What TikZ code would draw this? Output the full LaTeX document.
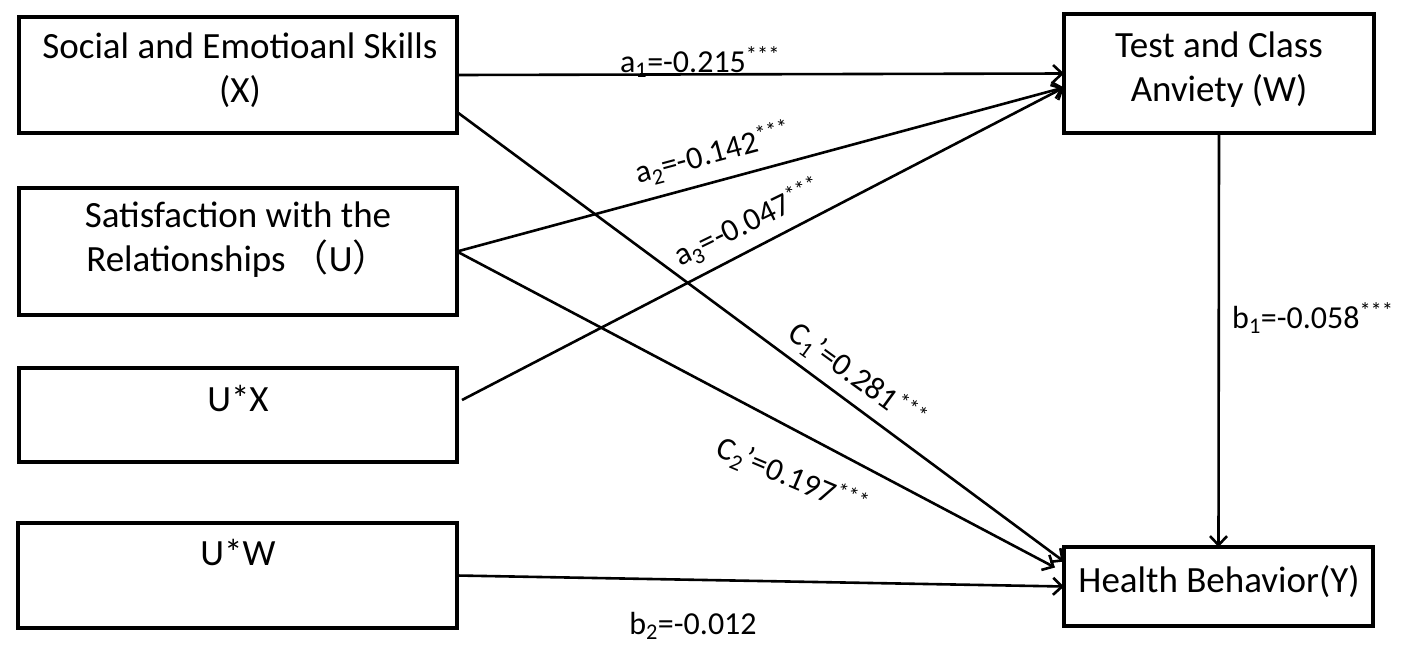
\documentclass[tikz,border=0pt]{standalone}
\usepackage{fontspec}
\setmainfont{Carlito}
\newfontfamily\cjk{Noto Sans CJK SC}
\usetikzlibrary{arrows.meta}
\begin{document}
\begin{tikzpicture}[x=1pt,y=-1pt,
  boxnode/.style={draw,line width=3.2pt,inner sep=0pt,outer sep=0pt},
  boxtext/.style={font=\fontsize{37}{44}\selectfont,align=center,inner sep=0pt},
  lbl/.style={font=\fontsize{32}{38}\selectfont,inner sep=0pt},
  arr/.style={line width=2.6pt,-{Straight Barb[length=9pt,width=17pt,line width=2.6pt]}}]
\useasboundingbox[fill=white] (0,0) rectangle (1417,659);
% boxes
\node[boxnode,minimum width=438pt,minimum height=116pt] (X) at (238,75) {};
\node[boxnode,minimum width=438pt,minimum height=127pt] (U) at (238,251.5) {};
\node[boxnode,minimum width=438pt,minimum height=94pt] (UX) at (238,415) {};
\node[boxnode,minimum width=439pt,minimum height=105pt] (UW) at (237.5,575.5) {};
\node[boxnode,minimum width=310pt,minimum height=119pt] (W) at (1219,73.5) {};
\node[boxnode,minimum width=309pt,minimum height=79pt] (Y) at (1218.5,586.5) {};
% box texts
\node[boxtext] (Xt) at (240,70) {Social and Emotioanl Skills\\(X)};
\node[boxtext] (Ut) at (238,240) {Satisfaction with the\\Relationships\,{\cjk （}U{\cjk ）}};
\node[boxtext] (UXt) at (238,398) {U*X};
\node[boxtext] (UWt) at (238,552) {U*W};
\node[boxtext] (Wt) at (1219,70) {Test and Class\\Anviety (W)};
\node[boxtext] (Yt) at (1219,582) {Health Behavior(Y)};
% connectors
\coordinate (uxs) at ([xshift=5pt,yshift=15pt]UX.east);
\draw[arr] (X.east) -- (W.west);
\draw[arr] (U.east) -- ([yshift=-14pt]W.west);
\draw[arr] (uxs) -- ([yshift=-14pt]W.west);
\draw[arr] ([yshift=-37pt]X.east) -- ([yshift=25pt]Y.west);
\draw[arr] (U.east) -- ([xshift=-9pt,yshift=19pt]Y.west);
\draw[arr] (UW.east) -- (Y.west);
\draw[arr] (W.south) -- (Y.north);
% labels
\node[lbl,anchor=base] (la1) at (700,72) {a\textsubscript{1}=-0.215\textsuperscript{***}};
\node[lbl,rotate=15] (la2) at (713,154) {a\textsubscript{2}=-0.142\textsuperscript{***}};
\node[lbl,rotate=26] (la3) at (748,223) {a\textsubscript{3}=-0.047\textsuperscript{***}};
\node[lbl,rotate=-36] (lc1) at (857,377) {C\textsubscript{1}’=0.281\textsuperscript{***}};
\node[lbl,rotate=-23] (lc2) at (792,478) {C\textsubscript{2}’=0.197\textsuperscript{***}};
\node[lbl,anchor=base] (lb2) at (693,634) {b\textsubscript{2}=-0.012};
\node[lbl,anchor=base west] (lb1) at (1232,328) {b\textsubscript{1}=-0.058\textsuperscript{***}};
\end{tikzpicture}
\end{document}
